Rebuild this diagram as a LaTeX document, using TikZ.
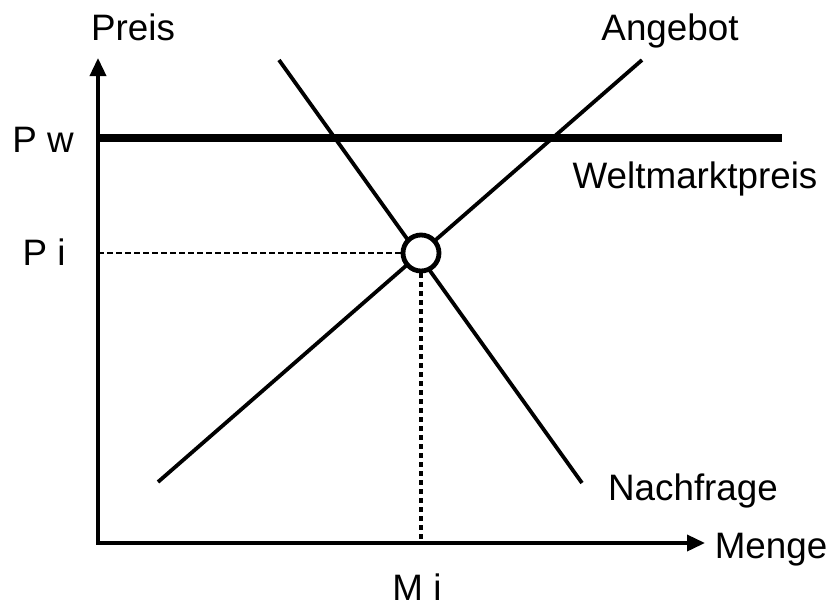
\documentclass[tikz,border=0pt]{standalone}
\usepackage{fontspec}
\setmainfont{Liberation Sans}
\usetikzlibrary{arrows.meta,positioning}
\tikzset{
  axis_line/.style={{Triangle[length=9pt,width=8pt]}-{Triangle[length=9pt,width=8pt]},line width=1.8pt},
  curve_line/.style={line width=1.9pt},
  world_line/.style={line width=3.8pt},
  help_h/.style={dash pattern=on 3pt off 1.5pt,line width=1.1pt},
  help_v/.style={dash pattern=on 2.5pt off 2pt,line width=2.3pt},
  eq_circle/.style={circle,draw,fill=white,line width=2.4pt,minimum size=18pt,inner sep=0pt},
  lbl/.style={font=\fontsize{18.4}{22}\selectfont,inner sep=0pt,anchor=base},
}
\begin{document}
\begin{tikzpicture}[x=0.5pt,y=-0.5pt]
    \useasboundingbox (0,0) rectangle (834,606);
    % axes
    \coordinate (o) at (98,543);
    \coordinate (ytop) at (98,58);
    \coordinate (xend) at (705,543);
    \draw[axis_line] (ytop) -- (o) -- (xend);

    % world market price
    \coordinate (pw) at (98,138);
    \coordinate (pw_end) at (782,138);
    \draw[world_line] (pw) -- (pw_end);

    % supply and demand
    \coordinate (s_lo) at (158,482);
    \coordinate (s_hi) at (642,60);
    \coordinate (d_hi) at (279,60);
    \coordinate (d_lo) at (582,483);
    \draw[curve_line] (s_lo) -- (s_hi);
    \draw[curve_line] (d_hi) -- (d_lo);

    \node[eq_circle] (eq) at (421,253) {};
    \draw[help_h] (eq.west -| o) -- (eq.west);
    \draw[help_v] (eq.south) -- (eq.south |- o);

    \node[lbl] (preis) at (133,40) {Preis};
    \node[lbl] (angebot) at (670,40) {Angebot};
    \node[lbl] (pw_lbl) at (43,152) {P w};
    \node[lbl] (welt) at (695,188) {Weltmarktpreis};
    \node[lbl] (pi_lbl) at (44,265) {P i};
    \node[lbl] (nachfrage) at (693,500) {Nachfrage};
    \node[lbl] (menge) at (771,558) {Menge};
    \node[lbl] (mi_lbl) at (417,600) {M i};
  \end{tikzpicture}
\end{document}
